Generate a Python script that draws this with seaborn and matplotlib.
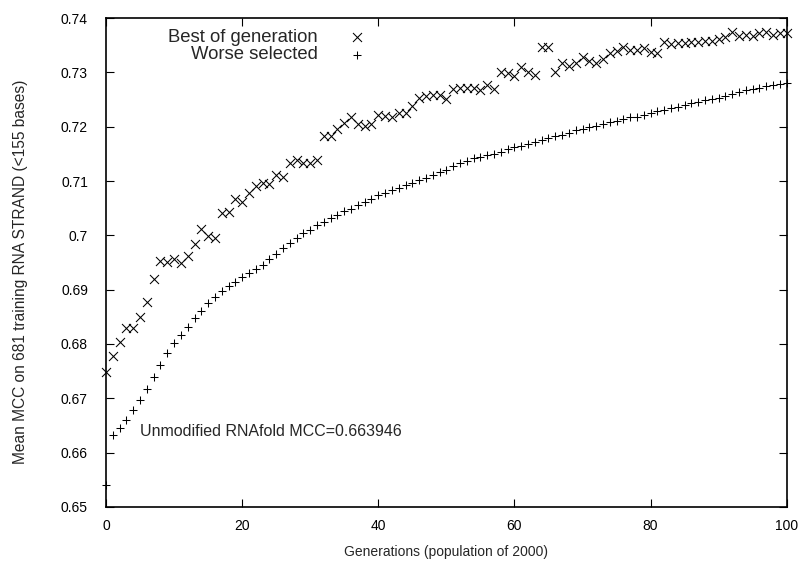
"""
Mean MCC of best and worse selected individuals per generation (RNAfold GP run)
"""

import numpy as np
import pandas as pd
import matplotlib

matplotlib.use("Agg")
import matplotlib.pyplot as plt
import seaborn as sns

sns.set_style("ticks")
plt.rcParams["font.family"] = ["Liberation Sans", "DejaVu Sans"]
plt.rcParams["font.size"] = 10

# %%
generation = np.arange(0, 101)

best_of_generation = [
    0.6749, 0.6778, 0.6803, 0.6830, 0.6829, 0.6850, 0.6877, 0.6920, 0.6952, 0.6950,
    0.6956, 0.6949, 0.6962, 0.6984, 0.7012, 0.6999, 0.6996, 0.7042, 0.7043, 0.7066,
    0.7062, 0.7078, 0.7090, 0.7096, 0.7095, 0.7111, 0.7108, 0.7133, 0.7139, 0.7134,
    0.7133, 0.7139, 0.7182, 0.7182, 0.7196, 0.7206, 0.7217, 0.7205, 0.7202, 0.7205,
    0.7222, 0.7219, 0.7218, 0.7225, 0.7225, 0.7238, 0.7252, 0.7257, 0.7258, 0.7258,
    0.7251, 0.7270, 0.7272, 0.7272, 0.7272, 0.7268, 0.7277, 0.7270, 0.7301, 0.7298,
    0.7293, 0.7310, 0.7301, 0.7295, 0.7346, 0.7346, 0.7301, 0.7317, 0.7312, 0.7317,
    0.7328, 0.7320, 0.7318, 0.7324, 0.7335, 0.7340, 0.7347, 0.7342, 0.7342, 0.7344,
    0.7338, 0.7336, 0.7356, 0.7353, 0.7354, 0.7354, 0.7356, 0.7355, 0.7358, 0.7357,
    0.7361, 0.7365, 0.7375, 0.7366, 0.7369, 0.7366, 0.7372, 0.7375, 0.7369, 0.7372,
    0.7372,
]

worse_selected = [
    0.6541, 0.6633, 0.6646, 0.6661, 0.6679, 0.6697, 0.6718, 0.6740, 0.6761, 0.6783,
    0.6801, 0.6817, 0.6832, 0.6847, 0.6861, 0.6875, 0.6887, 0.6897, 0.6907, 0.6915,
    0.6924, 0.6931, 0.6938, 0.6946, 0.6956, 0.6966, 0.6977, 0.6986, 0.6995, 0.7004,
    0.7010, 0.7019, 0.7025, 0.7031, 0.7037, 0.7044, 0.7048, 0.7056, 0.7062, 0.7066,
    0.7074, 0.7078, 0.7083, 0.7088, 0.7093, 0.7097, 0.7102, 0.7106, 0.7111, 0.7116,
    0.7121, 0.7128, 0.7133, 0.7137, 0.7142, 0.7145, 0.7148, 0.7150, 0.7154, 0.7158,
    0.7162, 0.7165, 0.7168, 0.7172, 0.7175, 0.7179, 0.7182, 0.7185, 0.7189, 0.7193,
    0.7196, 0.7199, 0.7202, 0.7205, 0.7209, 0.7211, 0.7214, 0.7217, 0.7218, 0.7221,
    0.7226, 0.7228, 0.7231, 0.7234, 0.7237, 0.7240, 0.7243, 0.7246, 0.7249, 0.7251,
    0.7253, 0.7256, 0.7260, 0.7264, 0.7268, 0.7269, 0.7271, 0.7274, 0.7276, 0.7279,
    0.7281,
]

rnafold_mcc = 0.663946
label_generation = 5

x_ticks = [0, 20, 40, 60, 80, 100]
y_ticks = [0.65, 0.66, 0.67, 0.68, 0.69, 0.70, 0.71, 0.72, 0.73, 0.74]
y_tick_labels = ["0.65", "0.66", "0.67", "0.68", "0.69", "0.7",
                 "0.71", "0.72", "0.73", "0.74"]

df = pd.DataFrame(
    {
        "Generation": generation,
        "Best": best_of_generation,
        "Worse": worse_selected,
    }
)

# %%
fig = plt.figure(figsize=(8.05, 5.63), dpi=100)
ax = fig.add_axes([0.1317, 0.0995, 0.8456, 0.8685])

sns.scatterplot(
    data=df, x="Generation", y="Best", marker="x", color="black",
    s=42, linewidth=0.75, label="Best of generation", ax=ax, clip_on=False,
)
sns.scatterplot(
    data=df, x="Generation", y="Worse", marker="+", color="black",
    s=38, linewidth=0.75, label="Worse selected", ax=ax, clip_on=False,
)

ax.text(label_generation, rnafold_mcc, f"Unmodified RNAfold MCC={rnafold_mcc}",
        ha="left", va="center", fontsize=11.5)

ax.set_xlim(0, 100)
ax.set_ylim(0.65, 0.74)
ax.set_xticks(x_ticks)
ax.set_yticks(y_ticks)
ax.set_yticklabels(y_tick_labels)
ax.tick_params(direction="in", length=6, width=0.8, top=True, right=True,
               colors="black", labelsize=10)
ax.tick_params(axis="y", pad=13)
ax.tick_params(axis="x", pad=9)
for side in ax.spines.values():
    side.set_linewidth(1.2)
    side.set_color("black")

ax.set_xlabel("Generations (population of 2000)", fontsize=10, labelpad=8)
ax.set_ylabel("Mean MCC on 681 training RNA STRAND (<155 bases)", fontsize=11.2)
ax.yaxis.set_label_coords(-0.1146, 0.48)

ax.legend(
    loc="upper right",
    bbox_to_anchor=(0.409, 0.997),
    markerfirst=False,
    frameon=False,
    handlelength=2.0,
    handletextpad=1.1,
    labelspacing=0.04,
    borderpad=0,
    fontsize=13.3,
)

fig.savefig("out.png", dpi=100)
